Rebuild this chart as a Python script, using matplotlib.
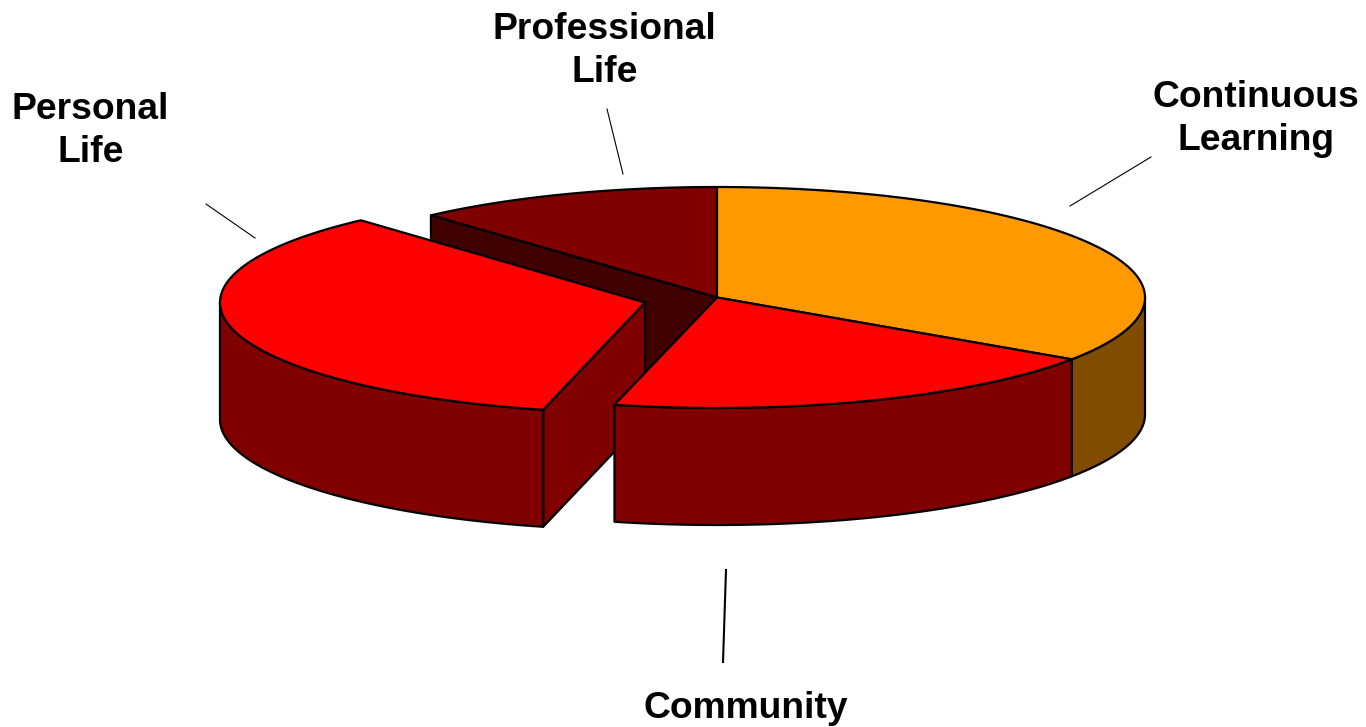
import numpy as np
import matplotlib
matplotlib.use('Agg')
import matplotlib.pyplot as plt
from matplotlib.patches import Polygon

# share of each slice in percent, clockwise from 12 o'clock
labels = ['Continuous\nLearning', 'Community', 'Personal\nLife', 'Professional\nLife']
values = [34.45, 19.4, 34.5, 11.65]
top_colors = ['#FF9900', '#FF0000', '#FF0000', '#800000']
side_colors = ['#804D00', '#800000', '#800000', '#400000']

CX, CY = 717, 297.5
A, B = 428, 110.5
DEPTH = 117
EXPLODE = (-72, 5)  # only the Personal Life slice is pulled out
EXPLODE_A = 425


def rim(t0, t1, ox=0, oy=0, a=A):
    ts = np.radians(np.linspace(t0, t1, max(int(abs(t1 - t0)) * 2, 2)))
    return np.column_stack((CX + ox + a * np.sin(ts), CY + oy - B * np.cos(ts)))


def slice_top(t0, t1, ox=0, oy=0, a=A):
    return np.vstack(([[CX + ox, CY + oy]], rim(t0, t1, ox, oy, a)))


def outer_side(t0, t1, ox=0, oy=0, a=A):
    edge = rim(t0, t1, ox, oy, a)
    return np.vstack((edge, (edge + [0, DEPTH])[::-1]))


def radial_face(t, ox=0, oy=0, a=A):
    p = [CX + ox, CY + oy]
    q = rim(t, t, ox, oy, a)[0]
    return [p, q, [q[0], q[1] + DEPTH], [p[0], p[1] + DEPTH]]


def add(ax, pts, color, z):
    ax.add_patch(Polygon(pts, closed=True, facecolor=color, edgecolor='black',
                         linewidth=1.6, joinstyle='round', zorder=z))


edges = np.concatenate(([0], np.cumsum(values))) / np.sum(values) * 360

fig = plt.figure(figsize=(13.66, 7.27), dpi=100)
ax = fig.add_axes([0, 0, 1, 1])
ax.set_xlim(0, 1366)
ax.set_ylim(727, 0)
ax.axis('off')

# back to front, same as painting the 3d pie by hand
add(ax, slice_top(edges[3], edges[4]), top_colors[3], 1)
add(ax, radial_face(edges[3]), side_colors[3], 2)
add(ax, outer_side(90, edges[1]), side_colors[0], 3)
add(ax, slice_top(edges[0], edges[1]), top_colors[0], 4)

add(ax, radial_face(edges[2], *EXPLODE, EXPLODE_A), side_colors[2], 5)
add(ax, outer_side(edges[2], 270, *EXPLODE, EXPLODE_A), side_colors[2], 6)
add(ax, slice_top(edges[2], edges[3], *EXPLODE, EXPLODE_A), top_colors[2], 7)

# community sits in front of the pulled out slice's cut face
add(ax, outer_side(edges[1], edges[2]), side_colors[1], 8)
add(ax, slice_top(edges[1], edges[2]), top_colors[1], 9)

# label text and leader lines
label_font = dict(family=['Liberation Sans', 'DejaVu Sans'], fontsize=26.8, fontweight='bold',
                  ha='center', va='center', linespacing=1.28, color='black')
ax.text(1256, 119, labels[0], **label_font)
ax.text(746, 709, labels[1], **label_font)
ax.text(90.5, 131, labels[2], **label_font)
ax.text(604.5, 51, labels[3], **label_font)

ax.plot([1151, 1070], [157, 206], color='black', lw=0.8)
ax.plot([726, 723], [570, 662], color='black', lw=1.5)
ax.plot([206, 255], [204, 238], color='black', lw=0.8)
ax.plot([607, 623], [109, 174], color='black', lw=0.8)

fig.savefig('out.png', dpi=100, facecolor='white')
